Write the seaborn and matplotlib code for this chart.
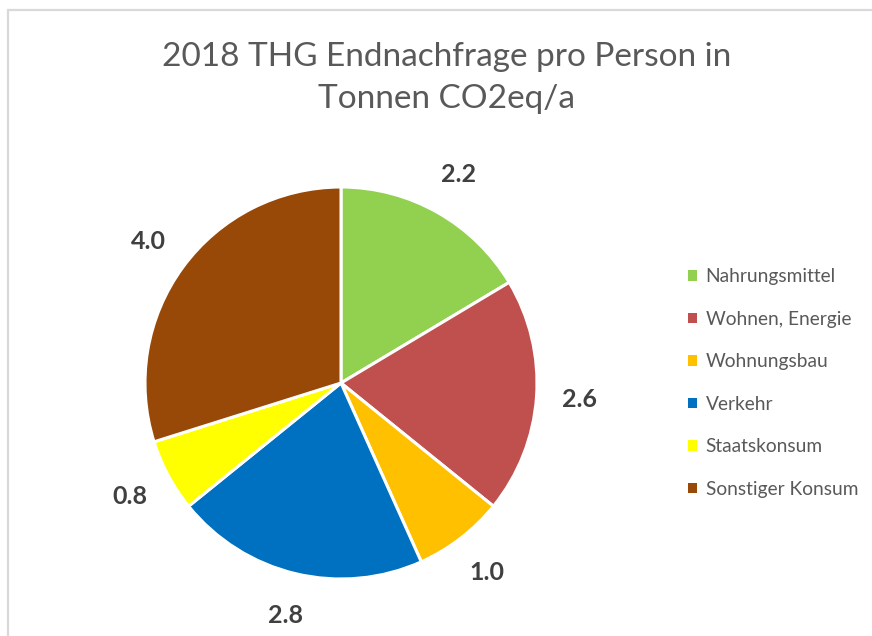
import matplotlib

matplotlib.use("Agg")
import matplotlib.pyplot as plt
import numpy as np
import seaborn as sns
from matplotlib.lines import Line2D
from matplotlib.patches import Patch

TITLE = "2018 THG Endnachfrage pro Person in\nTonnen CO2eq/a"
CATEGORIES = [
    "Nahrungsmittel",
    "Wohnen, Energie",
    "Wohnungsbau",
    "Verkehr",
    "Staatskonsum",
    "Sonstiger Konsum",
]
VALUES = [2.2, 2.6, 1.0, 2.8, 0.8, 4.0]
COLORS = ["#92D050", "#C0504D", "#FFC000", "#0070C0", "#FFFF00", "#984807"]

sns.set_theme(style="white")
plt.rcParams["font.family"] = ["Lato", "DejaVu Sans"]

W, H = 872, 636
fig = plt.figure(figsize=(W / 100, H / 100), dpi=100)
fig.patch.set_facecolor("white")

# pie centre (341, 383) px, radius 196 px
cx, cy, r = 341, 383, 196
ax = fig.add_axes([(cx - r) / W, (H - cy - r) / H, 2 * r / W, 2 * r / H])

palette = sns.color_palette(COLORS)
wedges, _ = ax.pie(
    VALUES,
    colors=palette,
    startangle=90,
    counterclock=False,
    radius=1,
    wedgeprops=dict(edgecolor="white", linewidth=2.2),
)
ax.set_xlim(-1, 1)
ax.set_ylim(-1, 1)
ax.set_aspect("equal")
ax.axis("off")

for w, v in zip(wedges, VALUES):
    mid = np.deg2rad((w.theta1 + w.theta2) / 2)
    ax.text(1.22 * np.cos(mid), 1.22 * np.sin(mid), f"{v:.1f}",
            ha="center", va="center", fontsize=18, fontweight="bold",
            color="#404040")

fig.text(447 / W, 1 - 78 / H, TITLE, ha="center", va="center",
         fontsize=24, color="#595959", linespacing=1.5)

handles = [Patch(facecolor=c, edgecolor="none") for c in palette]
fig.legend(handles, CATEGORIES, loc="center left",
           bbox_to_anchor=(671 / W, 1 - 383 / H), frameon=False,
           fontsize=13.8, labelcolor="#595959", handlelength=0.45,
           handleheight=0.45, handletextpad=0.45, labelspacing=1.33)

# light chart-area frame (left and top edges only visible)
fx, fy = 7.5 / W, 1 - 9.5 / H
fig.add_artist(Line2D([fx, fx], [0, fy], color="#D9D9D9", lw=1.6,
                      transform=fig.transFigure))
fig.add_artist(Line2D([fx, 1], [fy, fy], color="#D9D9D9", lw=1.6,
                      transform=fig.transFigure))

fig.savefig("out.png", dpi=100)
